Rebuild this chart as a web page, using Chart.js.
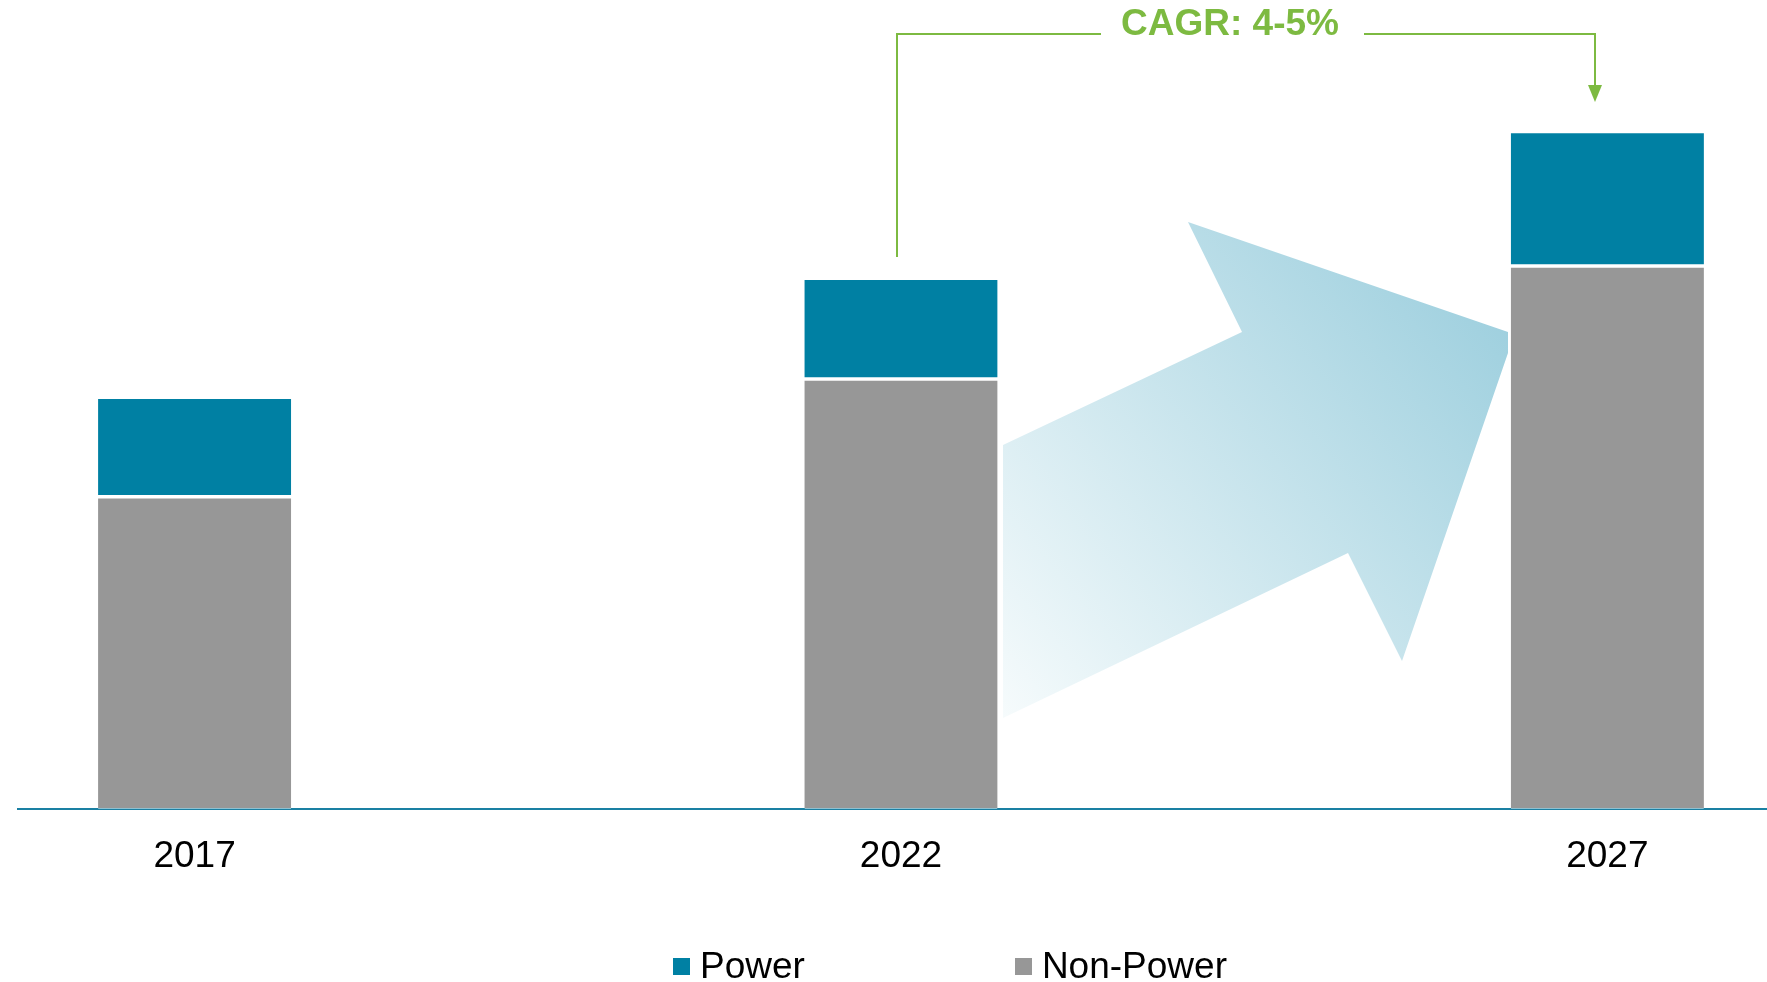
<!DOCTYPE html>
<html lang="en">
<head>
  <meta charset="UTF-8" />
  <title>Power vs Non-Power</title>
  <script src="https://cdn.jsdelivr.net/npm/chart.js"></script>
  <style>
    html, body { margin: 0; padding: 0; background: #fff; }
    #wrap { position: relative; width: 1767px; height: 982px; }
    #legend {
      position: absolute; left: 673px; top: 946px;
      display: flex; gap: 210px;
      font-family: "Liberation Sans", Arial, sans-serif; font-size: 37px; line-height: 40px; color: #000;
    }
    .item { display: flex; align-items: center; }
    .box { width: 17px; height: 17px; margin-right: 10px; }
  </style>
</head>
<body>
  <div id="wrap">
    <canvas id="chart" width="1767" height="982"></canvas>
    <div id="legend"></div>
  </div>

  <script>
    // values (arbitrary units)
    const years = [2017, 2022, 2027];
    const nonPower = [11.57, 15.94, 20.13];
    const power = [3.63, 3.67, 4.93];
    const seriesNames = ['Power', 'Non-Power'];
    const cagrLabel = 'CAGR: 4-5%';

    const teal = '#0080a3';
    const grey = '#979797';
    const green = '#7dba41';

    // big faded arrow between 2022 and 2027, sits behind the bars
    const growthArrow = {
      id: 'growthArrow',
      beforeDatasetsDraw(chart) {
        const ctx = chart.ctx;
        ctx.save();
        const g = ctx.createLinearGradient(1003, 718, 1508, 300);
        g.addColorStop(0, '#f6fbfc');
        g.addColorStop(1, '#9dcfde');
        ctx.fillStyle = g;
        ctx.beginPath();
        ctx.moveTo(1003, 718);
        ctx.lineTo(1003, 445);
        ctx.lineTo(1242, 332);
        ctx.lineTo(1188, 222);
        ctx.lineTo(1508, 332);
        ctx.lineTo(1508, 353);
        ctx.lineTo(1402, 661);
        ctx.lineTo(1348, 553);
        ctx.closePath();
        ctx.fill();
        ctx.restore();
      }
    };

    // green bracket with CAGR text on top
    const cagrBracket = {
      id: 'cagrBracket',
      afterDraw(chart) {
        const ctx = chart.ctx;
        ctx.save();
        ctx.strokeStyle = green;
        ctx.fillStyle = green;
        ctx.lineWidth = 2;
        ctx.beginPath();
        ctx.moveTo(897, 257);
        ctx.lineTo(897, 34);
        ctx.lineTo(1101, 34);
        ctx.moveTo(1364, 34);
        ctx.lineTo(1595, 34);
        ctx.lineTo(1595, 86);
        ctx.stroke();
        ctx.beginPath();
        ctx.moveTo(1588, 85);
        ctx.lineTo(1602, 85);
        ctx.lineTo(1595, 102);
        ctx.closePath();
        ctx.fill();
        ctx.font = 'bold 37px "Liberation Sans", Arial, sans-serif';
        ctx.textAlign = 'center';
        ctx.textBaseline = 'middle';
        ctx.fillText(cagrLabel, 1230, 25);
        ctx.restore();
      }
    };

    const chart = new Chart(document.getElementById('chart'), {
      type: 'bar',
      data: {
        datasets: [
          {
            label: seriesNames[1],
            data: years.map((y, i) => ({ x: y, y: nonPower[i] })),
            backgroundColor: grey,
            borderColor: '#fff',
            borderWidth: { top: 2, bottom: 1, left: 0, right: 0 },
            borderSkipped: false,
            barThickness: 193
          },
          {
            label: seriesNames[0],
            data: years.map((y, i) => ({ x: y, y: power[i] })),
            backgroundColor: teal,
            borderColor: '#fff',
            borderWidth: { top: 0, bottom: 2, left: 0, right: 0 },
            borderSkipped: false,
            barThickness: 193
          }
        ]
      },
      options: {
        responsive: false,
        animation: false,
        layout: { padding: { left: 18, right: 0, top: 0, bottom: 77 } },
        plugins: { legend: { display: false }, tooltip: { enabled: false } },
        scales: {
          x: {
            type: 'linear',
            stacked: true,
            offset: false,
            min: 2015.75,
            max: 2028.13,
            grid: { display: false, drawTicks: false },
            border: { display: true, color: '#1a80a3', width: 2 },
            afterBuildTicks: s => { s.ticks = years.map(v => ({ value: v })); },
            ticks: {
              autoSkip: false,
              maxRotation: 0,
              padding: 26,
              color: '#000',
              font: { family: '"Liberation Sans", Arial, sans-serif', size: 37 },
              callback: v => String(v)
            }
          },
          y: {
            stacked: true,
            display: false,
            min: 0,
            max: 30
          }
        }
      },
      plugins: [growthArrow, cagrBracket]
    });

    // legend: Power first, like the original
    const legend = document.getElementById('legend');
    [1, 0].forEach(i => {
      const ds = chart.data.datasets[i];
      legend.innerHTML += `<div class="item"><span class="box" style="background:${ds.backgroundColor}"></span>${ds.label}</div>`;
    });
  </script>
</body>
</html>
